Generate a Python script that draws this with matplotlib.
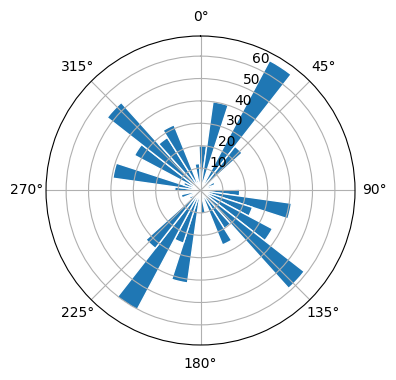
import numpy as np
import matplotlib
matplotlib.use("Agg")
from matplotlib import pyplot as plt

# bar directions (degrees, clockwise from north) and counts
directions = np.arange(3, 360, 10)
counts = [20, 40, 2, 65.7, 25, 3, 7, 5, 2,
          17.5, 41, 24.4, 36.4, 58.8, 20, 26.2, 3, 10.4,
          4, 41.7, 24.7, 60.3, 32.8, 6, 5, 8.8, 3,
          11.5, 39.5, 8, 33.4, 52.9, 27.9, 31.6, 5, 12]

fig = plt.figure(figsize=(3.96, 3.8), dpi=100)
ax = fig.add_axes([0.1162, 0.0921, 0.7803, 0.8132], projection='polar')
ax.set_theta_zero_location('N')
ax.set_theta_direction(-1)

ax.bar(np.deg2rad(directions), counts, width=np.deg2rad(10),
       color='C0', edgecolor='white', linewidth=1)

fig.savefig('out.png', dpi=100)
